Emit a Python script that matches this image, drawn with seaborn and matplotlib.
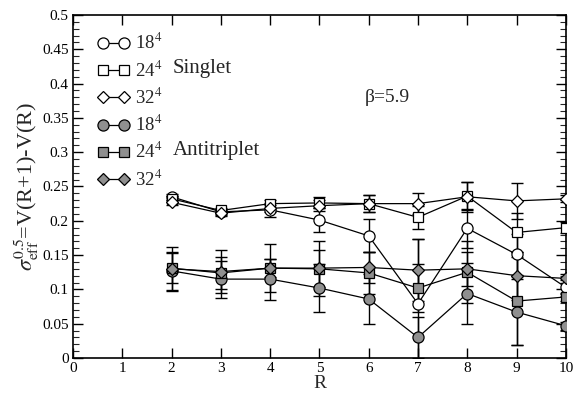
import numpy as np
import pandas as pd
import matplotlib
matplotlib.use("Agg")
import matplotlib.pyplot as plt
from matplotlib.lines import Line2D
from matplotlib.ticker import MultipleLocator
import seaborn as sns

R = [2, 3, 4, 5, 6, 7, 8, 9, 10]

# Singlet
s18 = [0.235, 0.213, 0.216, 0.201, 0.178, 0.079, 0.189, 0.151, 0.103]
s18_err = [0.004, 0.004, 0.010, 0.017, 0.024, 0.094, 0.028, 0.030, 0.010]
s24 = [0.232, 0.215, 0.225, 0.226, 0.225, 0.205, 0.236, 0.183, 0.190]
s24_err = [0.004, 0.004, 0.006, 0.008, 0.012, 0.017, 0.020, 0.029, 0.008]
s32 = [0.227, 0.211, 0.218, 0.222, 0.225, 0.225, 0.235, 0.229, 0.232]
s32_err = [0.004, 0.004, 0.005, 0.008, 0.012, 0.015, 0.022, 0.026, 0.005]

# Antitriplet
a18 = [0.127, 0.115, 0.115, 0.102, 0.086, 0.030, 0.094, 0.067, 0.047]
a18_err = [0.028, 0.027, 0.030, 0.035, 0.037, 0.030, 0.044, 0.048, 0.006]
a24 = [0.131, 0.124, 0.131, 0.130, 0.124, 0.102, 0.125, 0.083, 0.089]
a24_err = [0.022, 0.023, 0.013, 0.027, 0.030, 0.035, 0.045, 0.064, 0.006]
a32 = [0.130, 0.126, 0.131, 0.131, 0.132, 0.128, 0.130, 0.120, 0.116]
a32_err = [0.032, 0.031, 0.035, 0.040, 0.023, 0.045, 0.025, 0.035, 0.006]

labels = ["18$^4$", "24$^4$", "32$^4$", "18$^4$", "24$^4$", "32$^4$"]
markers = ["o", "s", "D", "o", "s", "D"]
msizes = [8, 7, 6, 8, 7, 6]
faces = ["white", "white", "white", "#8f8f8f", "#8f8f8f", "#8f8f8f"]
values = [s18, s24, s32, a18, a24, a32]
errors = [s18_err, s24_err, s32_err, a18_err, a24_err, a32_err]

sns.set_style("ticks")
plt.rcParams["font.family"] = ["Liberation Serif", "DejaVu Serif"]
plt.rcParams["mathtext.fontset"] = "stix"

fig = plt.figure(figsize=(5.75, 3.93), dpi=100)
ax = fig.add_axes([0.127, 0.089, 0.857, 0.873])

handles = []
for i, (v, e) in enumerate(zip(values, errors)):
    df = pd.DataFrame({"R": R, "v": v, "e": e})
    ax.errorbar(df["R"], df["v"], yerr=df["e"], fmt="none", ecolor="black",
                elinewidth=1.0, capsize=4, capthick=1.0, zorder=2)
    sns.lineplot(data=df, x="R", y="v", ax=ax, color="black", linewidth=0.9,
                 marker=markers[i], markersize=msizes[i],
                 markerfacecolor=faces[i], markeredgecolor="black",
                 markeredgewidth=0.9, zorder=3, legend=False)
    handles.append(Line2D([], [], color="black", linewidth=0.9,
                          marker=markers[i], markersize=msizes[i],
                          markerfacecolor=faces[i], markeredgecolor="black",
                          markeredgewidth=0.9))

ax.set_xlim(0, 10)
ax.set_ylim(0, 0.5)
ax.xaxis.set_major_locator(MultipleLocator(1))
ax.yaxis.set_minor_locator(MultipleLocator(0.01))
ax.set_yticks(np.arange(0, 0.501, 0.05))
ax.set_yticklabels(["0", "0.05", "0.1", "0.15", "0.2", "0.25", "0.3",
                    "0.35", "0.4", "0.45", "0.5"])
ax.tick_params(axis="both", which="major", direction="in", length=7,
               width=1, top=True, right=True, labelsize=11, pad=3,
               colors="black")
ax.tick_params(axis="y", which="minor", direction="in", length=4,
               width=0.8, right=True)
for sp in ax.spines.values():
    sp.set_linewidth(1.2)
    sp.set_color("black")

ax.set_xlabel("R", fontsize=14, labelpad=0)
ax.set_ylabel(r"$\sigma_{\rm eff}^{0.5}$=V(R+1)-V(R)", fontsize=16, labelpad=1)

leg = ax.legend(handles, labels, loc="upper left", frameon=False,
                fontsize=13.5, numpoints=2, handlelength=1.7,
                handletextpad=0.3, labelspacing=0.37, borderaxespad=0,
                borderpad=0, bbox_to_anchor=(0.05, 0.947))

ax.text(0.203, 0.843, "Singlet", transform=ax.transAxes, fontsize=15,
        va="center", ha="left")
ax.text(0.203, 0.604, "Antitriplet", transform=ax.transAxes, fontsize=15,
        va="center", ha="left")
ax.text(0.592, 0.758, "β=5.9", transform=ax.transAxes, fontsize=14,
        va="center", ha="left")

fig.savefig("out.png", dpi=100)
